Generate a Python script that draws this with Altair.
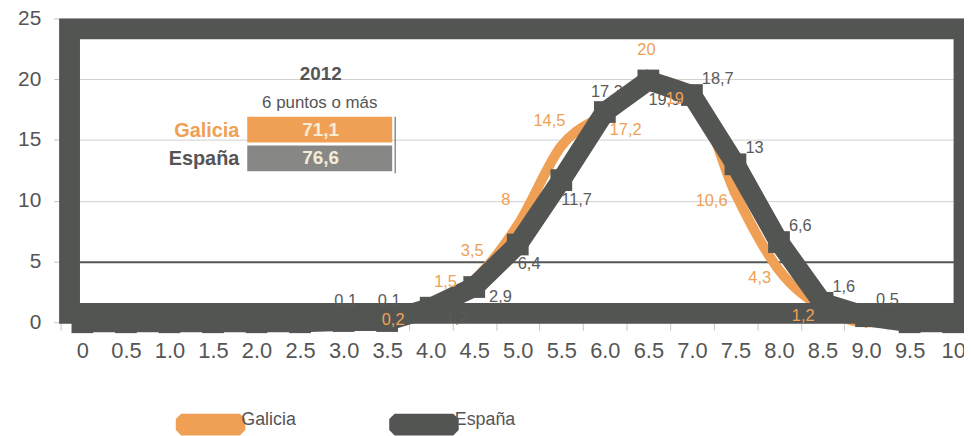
import altair as alt
import pandas as pd

categories = ["0", "0.5", "1.0", "1.5", "2.0", "2.5", "3.0", "3.5", "4.0", "4.5", "5.0",
              "5.5", "6.0", "6.5", "7.0", "7.5", "8.0", "8.5", "9.0", "9.5", "10"]
galicia = [0, 0, 0, 0, 0, 0, 0, 0.2, 1.5, 3.5, 8, 14.5, 17.2, 20, 19, 10.6, 4.3, 1.2, 0, 0, 0]
espana = [0, 0, 0, 0, 0, 0, 0.1, 0.1, 1.2, 2.9, 6.4, 11.7, 17.3, 19.9, 18.7, 13, 6.6, 1.6, 0.5, 0, 0]
series_names = ["Galicia", "España"]
y_ticks = [0, 5, 10, 15, 20, 25]
table_title = "2012"
table_subtitle = "6 puntos o más"
table_values = ["71,1", "76,6"]

ORANGE = "#EFA054"
DARK = "#535553"
GREY_BOX = "#878886"
CREAM = "#F5ECD7"
TXT = "#555555"
FONT = "Liberation Sans, Arial, sans-serif"

# label placement rules (style only)
esp_place = {"3.0": "above", "3.5": "above", "6.0": "above",
             "4.0": "belowA", "4.5": "belowA", "5.0": "belowB", "5.5": "belowB", "6.5": "belowB"}
gal_place = {"3.5": "center", "4.0": "aboveright", "5.0": "aboveleft", "5.5": "aboveleft",
             "6.0": "belowright", "7.0": "left", "7.5": "left", "8.0": "left", "8.5": "left"}


def fmt(v):
    return f"{v:g}".replace(".", ",")


rows = []
for name, vals in zip(series_names, [galicia, espana]):
    for c, v in zip(categories, vals):
        if name == "España":
            place = esp_place.get(c, "aboveright")
        else:
            place = gal_place.get(c, "above")
        rows.append({"cat": c, "serie": name, "value": v, "label": fmt(v), "place": place})
df = pd.DataFrame(rows)

X = alt.X("cat:N", sort=categories, title=None,
          scale=alt.Scale(type="band", range=[1, 922], paddingInner=0, paddingOuter=0),
          axis=alt.Axis(tickBand="extent", domain=False, grid=False, labelAngle=0,
                        tickSize=8, tickColor="#c4c4c4", labelPadding=10,
                        labelFontSize=22, labelColor=TXT, labelFont=FONT))
Y = alt.Y("value:Q", title=None,
          scale=alt.Scale(domain=[0, 25], nice=False, zero=True),
          axis=alt.Axis(values=y_ticks, domain=False, tickSize=6, tickColor="#c4c4c4",
                        labelPadding=13, labelFontSize=21, labelColor=TXT, labelFont=FONT,
                        grid=True,
                        gridColor={"condition": {"test": "datum.value === 5", "value": DARK},
                                   "value": "#d0d0d0"},
                        gridWidth={"condition": {"test": "datum.value === 5", "value": 2},
                                   "value": 1}))

base = alt.Chart(df)

frame = alt.Chart(pd.DataFrame({"a": [0]})).mark_rect(
    filled=False, stroke=DARK, strokeWidth=21
).encode(x=alt.value(10), x2=alt.value(911), y=alt.value(10.5), y2=alt.value(297))

gal = base.transform_filter(alt.datum.serie == "Galicia")
esp = base.transform_filter(alt.datum.serie == "España")

gal_line = gal.mark_line(color=ORANGE, strokeWidth=10, interpolate="monotone").encode(x=X, y=Y)
gal_pts = gal.mark_point(shape="diamond", filled=True, color=ORANGE, size=160, opacity=1).encode(x=X, y=Y)
esp_line = esp.mark_line(color=DARK, strokeWidth=20).encode(x=X, y=Y)
esp_pts = esp.mark_point(shape="square", filled=True, color=DARK, size=480, opacity=1).encode(x=X, y=Y)

legend_path = "M-1.6,-0.25L-1.35,-0.5L1.35,-0.5L1.6,-0.25L1.6,0.25L1.35,0.5L-1.35,0.5L-1.6,0.25Z"
legend_layer = base.mark_point(filled=True, opacity=0).encode(
    x=X, y=Y,
    color=alt.Color("serie:N", title=None,
                    scale=alt.Scale(domain=series_names, range=[ORANGE, DARK]),
                    legend=alt.Legend(orient="none", legendX=130, legendY=387,
                                      direction="horizontal", symbolType=legend_path,
                                      symbolSize=1914, symbolOpacity=1, symbolStrokeWidth=0,
                                      labelFontSize=18, labelColor=TXT, labelFont=FONT,
                                      labelOffset=9, columnPadding=93,
                                      labelBaseline="alphabetic", padding=0)))


def labels(src, place, color, align, dx, dy):
    return src.transform_filter(
        (alt.datum.place == place) & (alt.datum.value > 0)
    ).mark_text(color=color, align=align, baseline="middle", dx=dx, dy=dy,
                fontSize=16.5, font=FONT).encode(x=X, y=Y, text="label:N")


ESP_TXT = "#5a5a5a"
label_layers = [
    labels(esp, "above", ESP_TXT, "center", 2, -20),
    labels(esp, "belowA", ESP_TXT, "left", 15, 10),
    labels(esp, "belowB", ESP_TXT, "left", 0, 20),
    labels(esp, "aboveright", ESP_TXT, "left", 10, -16),
    labels(gal, "center", ORANGE, "center", 6, 0),
    labels(gal, "above", ORANGE, "center", -2, -29),
    labels(gal, "aboveright", ORANGE, "center", 15, -22),
    labels(gal, "aboveleft", ORANGE, "center", -12, -25),
    labels(gal, "belowright", ORANGE, "center", 21, 17),
    labels(gal, "left", ORANGE, "right", -8, 8),
]

# summary table (annotation)
one = pd.DataFrame({"a": [0]})
table_layers = [
    alt.Chart(pd.DataFrame({"t": [table_title]})).mark_text(
        fontSize=19, fontWeight="bold", color=TXT, font=FONT, align="center", baseline="middle"
    ).encode(x=alt.value(263), y=alt.value(56), text="t:N"),
    alt.Chart(pd.DataFrame({"t": [table_subtitle]})).mark_text(
        fontSize=17, color=TXT, font=FONT, align="center", baseline="middle"
    ).encode(x=alt.value(262), y=alt.value(85), text="t:N"),
]
box_colors = [ORANGE, GREY_BOX]
name_colors = [ORANGE, TXT]
for i, (nm, val) in enumerate(zip(series_names, table_values)):
    top = 99 + 29 * i
    table_layers.append(
        alt.Chart(one).mark_rect(color=box_colors[i]).encode(
            x=alt.value(189), x2=alt.value(335), y=alt.value(top), y2=alt.value(top + 26)))
    table_layers.append(
        alt.Chart(pd.DataFrame({"t": [val]})).mark_text(
            fontSize=19, fontWeight="bold", color=CREAM, font=FONT, align="center", baseline="middle"
        ).encode(x=alt.value(263), y=alt.value(top + 13), text="t:N"))
    table_layers.append(
        alt.Chart(pd.DataFrame({"t": [nm]})).mark_text(
            fontSize=20, fontWeight="bold", color=name_colors[i], font=FONT, align="right",
            baseline="middle"
        ).encode(x=alt.value(181), y=alt.value(top + 14), text="t:N"))
table_layers.append(
    alt.Chart(one).mark_rule(color=DARK, strokeWidth=1).encode(
        x=alt.value(338), y=alt.value(99), y2=alt.value(156)))

chart = alt.layer(
    gal_line, frame, gal_pts, esp_line, esp_pts, legend_layer, *label_layers, *table_layers
).properties(
    width=911, height=306,
    autosize=alt.AutoSizeParams(type="none"),
    padding={"left": 52, "top": 9, "right": 0, "bottom": 113},
    background="white",
).configure_view(stroke=None)

chart.save("out.html", embed_options={"renderer": "svg", "actions": False})
